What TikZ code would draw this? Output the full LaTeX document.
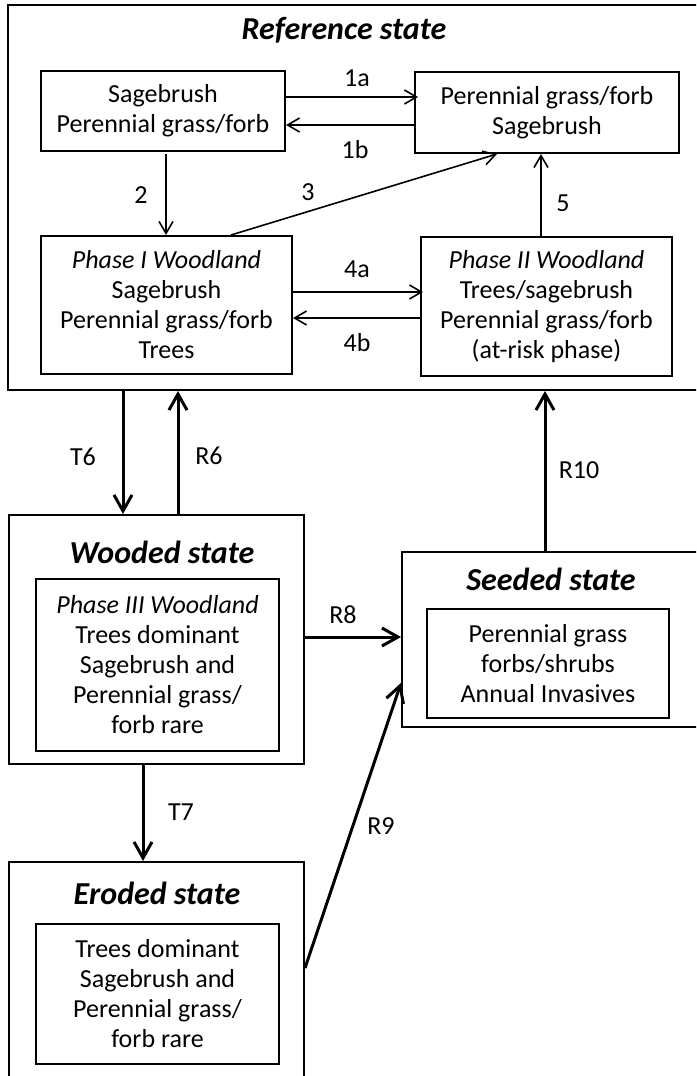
\documentclass[tikz,border=0pt]{standalone}
\usepackage{fontspec}
\setmainfont{Carlito}
\usetikzlibrary{arrows.meta,calc}
\begin{document}
\begin{tikzpicture}[x=0.5pt,y=-0.5pt,
  body/.style={font=\fontsize{13}{15}\selectfont},
  phasebox/.style={draw,line width=1pt,inner sep=0pt,align=center,body},
  frame/.style={draw,line width=1pt,inner sep=0pt},
  ttl/.style={font=\fontsize{16}{19}\selectfont\bfseries\itshape,inner sep=0pt},
  lbl/.style={body,inner sep=0pt},
  thinarr/.style={line width=0.8pt,-{Straight Barb[length=6pt,width=7pt]}},
  thickarr/.style={line width=1.5pt,-{Straight Barb[length=8pt,width=9pt]}}]
\useasboundingbox (0,0) rectangle (696,1076);
\clip (0,0) rectangle (696,1076);

% Reference state and its four phases
\node[frame,minimum width=351pt,minimum height=192.5pt] (ref) at (359,197.5) {};
\node[ttl] (reftitle) at (344,30) {Reference state};
\node[phasebox,minimum width=122pt,minimum height=40pt] (A) at (163,111)
  {Sagebrush\\Perennial grass/forb};
\node[phasebox,minimum width=132pt,minimum height=40.5pt] (B) at (547,112.5)
  {Perennial grass/forb\\Sagebrush};
\node[phasebox,minimum width=125.5pt,minimum height=69pt] (C) at (166.5,305)
  {\textit{Phase I Woodland}\\Sagebrush\\Perennial grass/forb\\Trees};
\node[phasebox,minimum width=125.5pt,minimum height=69.5pt] (D) at (546.5,306.5)
  {\textit{Phase II Woodland}\\Trees/sagebrush\\Perennial grass/forb\\(at-risk phase)};

% Wooded state
\node[frame,minimum width=147.5pt,minimum height=124.5pt] (wood) at (156.5,639.5) {};
\node[ttl] (woodtitle) at (162,552) {Wooded state};
\node[phasebox,minimum width=121.5pt,minimum height=86pt] (woodin) at (157.5,665)
  {\textit{Phase III Woodland}\\Trees dominant\\Sagebrush and\\Perennial grass/\\forb rare};

% Seeded state
\node[frame,minimum width=154pt,minimum height=87.5pt] (seed) at (556,639.5) {};
\node[ttl] (seedtitle) at (551,579) {Seeded state};
\node[phasebox,minimum width=121pt,minimum height=54.5pt] (seedin) at (548,663.5)
  {Perennial grass\\forbs/shrubs\\Annual Invasives};

% Eroded state
\node[frame,minimum width=147.5pt,minimum height=119pt] (erode) at (156.5,981) {};
\node[ttl] (erodetitle) at (157,893) {Eroded state};
\node[phasebox,minimum width=121.5pt,minimum height=70pt] (erodein) at (157.5,994)
  {Trees dominant\\Sagebrush and\\Perennial grass/\\forb rare};

% Community pathways within the reference state
\draw[thinarr] ($(A.east)+(0,-14)$) -- ($(B.west)+(4,-15.5)$);
\draw[thinarr] ($(B.west)+(0,12.5)$) -- ($(A.east)+(0,14)$);
\draw[thinarr] ($(A.south)+(3,2)$) -- ($(C.north)+(-0.5,0)$);
\draw[thinarr] ($(C.north)+(64.5,0)$) -- ($(B.south)+(-50,0)$);
\draw[thinarr] ($(D.north)+(-5.5,0)$) -- ($(B.south)+(-6,0)$);
\draw[thinarr] ($(C.east)+(0,-13)$) -- ($(D.west)+(3,-14.5)$);
\draw[thinarr] ($(D.west)+(0,11.5)$) -- ($(C.east)+(0,13)$);

\node[lbl] (l1a) at (357,78) {1a};
\node[lbl] (l1b) at (355,150) {1b};
\node[lbl] (l2) at (141,195) {2};
\node[lbl] (l3) at (308,192) {3};
\node[lbl] (l5) at (563,203) {5};
\node[lbl] (l4a) at (357,269) {4a};
\node[lbl] (l4b) at (357,343) {4b};

% Transitions and restorations between states
\draw[thickarr] ($(ref.south)+(-236,0)$) -- ($(wood.north)+(-33.5,0)$);
\draw[thickarr] ($(wood.north)+(21.5,0)$) -- ($(ref.south)+(-181,0)$);
\draw[thickarr] ($(seed.north)+(-11,0)$) -- ($(ref.south)+(186,0)$);
\draw[thickarr] ($(wood.east)+(0,-2.5)$) -- ($(seed.west)+(0,-2.5)$);
\draw[thickarr] ($(wood.south)+(-13.5,0)$) -- ($(erode.north)+(-13.5,0)$);
\draw[thickarr] ($(erode.east)+(0,-13)$) -- ($(seed.west)+(0,43.5)$);

\node[lbl] (lT6) at (83,457) {T6};
\node[lbl] (lR6) at (209,456) {R6};
\node[lbl] (lR10) at (579,470) {R10};
\node[lbl] (lR8) at (343,615) {R8};
\node[lbl] (lT7) at (181,812) {T7};
\node[lbl] (lR9) at (381,826) {R9};
\end{tikzpicture}
\end{document}
